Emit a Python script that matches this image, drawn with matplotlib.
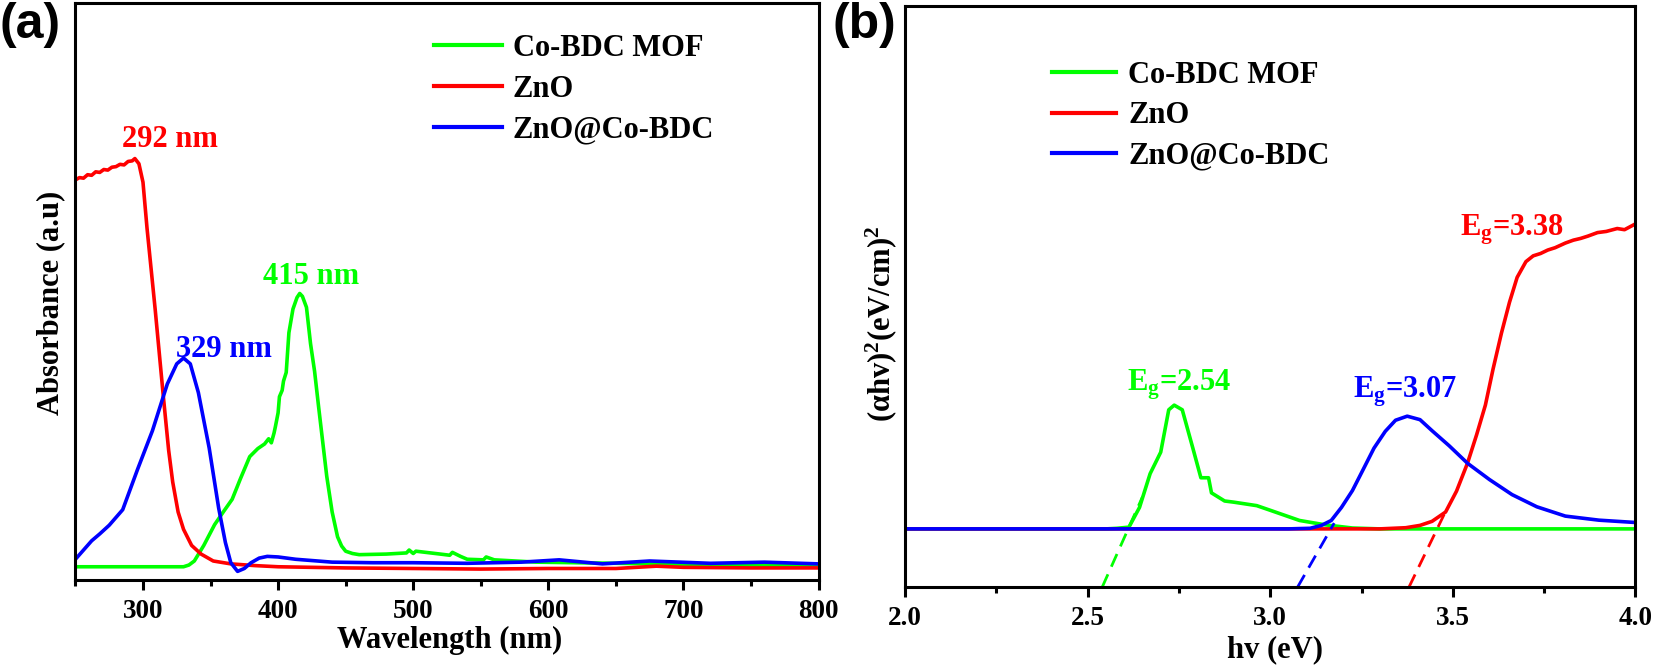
import matplotlib
matplotlib.use("Agg")
import matplotlib.pyplot as plt
from matplotlib.ticker import MultipleLocator, FormatStrFormatter

# ---------------- data: panel (a) UV-vis absorbance ----------------
wl_mof = [250, 300, 330, 334, 338, 345, 353, 360, 366, 372, 379, 385, 390, 393, 395, 397,
          398, 400, 401, 403, 404, 406, 408, 411, 414, 416, 418, 421, 424, 427, 430, 433,
          436, 440, 444, 447, 450, 455, 460, 480, 495, 497, 500, 502, 520, 527, 529, 535,
          540, 552, 554, 560, 591, 650, 700, 800]
abs_mof = [0.023, 0.023, 0.023, 0.026, 0.033, 0.060, 0.096, 0.120, 0.140, 0.175, 0.214,
           0.228, 0.236, 0.245, 0.238, 0.255, 0.266, 0.290, 0.318, 0.329, 0.345, 0.360,
           0.429, 0.470, 0.490, 0.497, 0.492, 0.473, 0.410, 0.362, 0.300, 0.240, 0.180,
           0.118, 0.075, 0.059, 0.050, 0.046, 0.044, 0.045, 0.047, 0.052, 0.046, 0.050,
           0.045, 0.043, 0.048, 0.041, 0.036, 0.035, 0.040, 0.035, 0.031, 0.029, 0.027, 0.025]

wl_zno = [250, 253, 256, 259, 262, 265, 268, 271, 274, 277, 280, 283, 286, 289, 292, 294,
          297, 300, 303, 306, 309, 312, 315, 319, 322, 326, 330, 336, 343, 352, 365, 383,
          400, 450, 500, 550, 600, 650, 680, 700, 750, 800]
abs_zno = [0.694, 0.698, 0.697, 0.703, 0.702, 0.708, 0.707, 0.712, 0.711, 0.716, 0.717,
           0.721, 0.720, 0.726, 0.727, 0.731, 0.722, 0.690, 0.610, 0.540, 0.470, 0.395,
           0.320, 0.225, 0.170, 0.118, 0.088, 0.060, 0.045, 0.033, 0.028, 0.025, 0.023,
           0.021, 0.020, 0.019, 0.020, 0.020, 0.024, 0.022, 0.021, 0.021]

wl_comp = [250, 256, 262, 268, 275, 285, 296, 307, 318, 325, 330, 335, 341, 349, 356, 361,
           365, 370, 375, 380, 386, 392, 400, 413, 440, 470, 500, 540, 580, 608, 640, 675,
           720, 760, 800]
abs_comp = [0.036, 0.052, 0.068, 0.080, 0.095, 0.122, 0.192, 0.259, 0.340, 0.375, 0.385,
            0.375, 0.325, 0.229, 0.125, 0.065, 0.030, 0.015, 0.020, 0.030, 0.038, 0.041,
            0.040, 0.036, 0.031, 0.030, 0.030, 0.029, 0.031, 0.035, 0.028, 0.033, 0.029,
            0.031, 0.028]

peak_labels_a = ["415 nm", "292 nm", "329 nm"]
peak_pos_a = [(424.6, 0.514), (319.6, 0.751), (359.6, 0.386)]

# ---------------- data: panel (b) Tauc plot ----------------
ev_mof = [2.0, 2.50, 2.55, 2.58, 2.613, 2.642, 2.671, 2.700, 2.722, 2.737, 2.759, 2.788,
          2.810, 2.831, 2.839, 2.875, 2.90, 2.963, 3.00, 3.08, 3.15, 3.225, 3.30, 4.0]
tauc_mof = [0.100, 0.100, 0.100, 0.101, 0.103, 0.137, 0.195, 0.232, 0.305, 0.313, 0.305,
            0.239, 0.188, 0.188, 0.162, 0.148, 0.146, 0.140, 0.132, 0.1145, 0.107,
            0.1015, 0.100, 0.100]

ev_zno = [2.0, 3.2, 3.30, 3.371, 3.41, 3.443, 3.48, 3.51, 3.54, 3.565, 3.589, 3.61, 3.633,
          3.655, 3.676, 3.70, 3.72, 3.74, 3.76, 3.78, 3.808, 3.83, 3.85, 3.87, 3.896, 3.92,
          3.95, 3.97, 4.0]
tauc_zno = [0.100, 0.100, 0.100, 0.102, 0.106, 0.113, 0.129, 0.165, 0.213, 0.262, 0.313,
            0.375, 0.437, 0.490, 0.533, 0.560, 0.570, 0.574, 0.580, 0.584, 0.592, 0.597,
            0.600, 0.604, 0.610, 0.612, 0.617, 0.615, 0.625]

ev_comp = [2.0, 3.05, 3.109, 3.14, 3.167, 3.195, 3.225, 3.255, 3.284, 3.315, 3.343, 3.375,
           3.41, 3.443, 3.49, 3.54, 3.60, 3.662, 3.73, 3.808, 3.90, 4.0]
tauc_comp = [0.100, 0.100, 0.101, 0.106, 0.1145, 0.137, 0.166, 0.203, 0.239, 0.268, 0.287,
             0.294, 0.288, 0.269, 0.243, 0.213, 0.185, 0.159, 0.138, 0.122, 0.115, 0.111]

# extrapolation (tangent) lines
fit_mof_x = [2.54, 2.65]
fit_mof_y = [0.0, 0.155]
fit_comp_x = [3.075, 3.175]
fit_comp_y = [0.0, 0.11]
fit_zno_x = [3.38, 3.48]
fit_zno_y = [0.0, 0.13]

gap_labels = [r"E$_{\mathrm{g}}$=2.54", r"E$_{\mathrm{g}}$=3.07", r"E$_{\mathrm{g}}$=3.38"]
gap_pos = [(2.7515, 0.338), (3.37, 0.327), (3.662, 0.605)]

series_names = ["Co-BDC MOF", "ZnO", "ZnO@Co-BDC"]
GREEN, RED, BLUE = "#00FF00", "#FF0000", "#0000FF"

# ---------------- style ----------------
plt.rcParams.update({
    "font.family": ["Liberation Serif", "DejaVu Serif"],
    "font.weight": "bold",
    "mathtext.fontset": "custom",
    "mathtext.rm": "Liberation Serif:bold",
    "mathtext.bf": "Liberation Serif:bold",
    "mathtext.it": "Liberation Serif:bold",
})

fig = plt.figure(figsize=(16.54, 6.69), dpi=100)
axA = fig.add_axes([0.0456, 0.1330, 0.4493, 0.8618])
axB = fig.add_axes([0.5472, 0.1226, 0.4416, 0.8684])

LW = 2.6
TICK_FS = 19.5
for ax in (axA, axB):
    for s in ax.spines.values():
        s.set_linewidth(2.2)
    ax.set_yticks([])
    ax.tick_params(axis="x", which="major", direction="out", length=7, width=2.2,
                   labelsize=TICK_FS, pad=7, top=False)
    ax.tick_params(axis="x", which="minor", direction="out", length=4, width=2.2, top=False)

# panel (a)
axA.plot(wl_mof, abs_mof, color=GREEN, lw=LW, label=series_names[0])
axA.plot(wl_zno, abs_zno, color=RED, lw=LW, label=series_names[1])
axA.plot(wl_comp, abs_comp, color=BLUE, lw=LW, label=series_names[2])
axA.set_xlim(250, 800)
axA.set_ylim(0, 1)
axA.xaxis.set_major_locator(MultipleLocator(100))
axA.xaxis.set_minor_locator(MultipleLocator(50))
axA.set_xticks([300, 400, 500, 600, 700, 800])
axA.set_xlabel("Wavelength (nm)", fontsize=22, fontweight="bold", va="center")
axA.xaxis.set_label_coords(0.503, -0.104)
axA.set_ylabel("Absorbance (a.u)", fontsize=22, fontweight="bold", va="center")
axA.yaxis.set_label_coords(-0.033, 0.48)
for txt, (x, y), c in zip(peak_labels_a, peak_pos_a, [GREEN, RED, BLUE]):
    axA.text(x, y, txt, color=c, fontsize=22, fontweight="bold", ha="center", va="baseline")
legA = axA.legend(loc="upper left", bbox_to_anchor=(0.482, 0.947), frameon=False,
                  handlelength=2.25, handletextpad=0.34, labelspacing=0.38,
                  borderpad=0, borderaxespad=0, prop={"weight": "bold", "size": 22})
for line in legA.get_lines():
    line.set_linewidth(3)

# panel (b)
axB.plot(ev_mof, tauc_mof, color=GREEN, lw=LW, label=series_names[0])
axB.plot(ev_zno, tauc_zno, color=RED, lw=LW, label=series_names[1])
axB.plot(ev_comp, tauc_comp, color=BLUE, lw=LW, label=series_names[2])
dash = (0, (5, 3))
axB.plot(fit_mof_x, fit_mof_y, color=GREEN, lw=2, linestyle=dash)
axB.plot(fit_comp_x, fit_comp_y, color=BLUE, lw=2, linestyle=dash)
axB.plot(fit_zno_x, fit_zno_y, color=RED, lw=2, linestyle=dash)
axB.set_xlim(2.0, 4.0)
axB.set_ylim(0, 1)
axB.xaxis.set_major_locator(MultipleLocator(0.5))
axB.xaxis.set_minor_locator(MultipleLocator(0.25))
axB.xaxis.set_major_formatter(FormatStrFormatter("%.1f"))
axB.set_xlabel("hv (eV)", fontsize=22, fontweight="bold", va="center")
axB.xaxis.set_label_coords(0.5065, -0.108)
axB.set_ylabel(r"(αhv)$^{\mathrm{2}}$(eV/cm)$^{\mathrm{2}}$", fontsize=22,
               fontweight="bold", va="center")
axB.yaxis.set_label_coords(-0.033, 0.453)
for txt, (x, y), c in zip(gap_labels, gap_pos, [GREEN, BLUE, RED]):
    axB.text(x, y, txt, color=c, fontsize=22, fontweight="bold", ha="center", va="baseline")
legB = axB.legend(loc="upper left", bbox_to_anchor=(0.2007, 0.906), frameon=False,
                  handlelength=2.1, handletextpad=0.4, labelspacing=0.38,
                  borderpad=0, borderaxespad=0, prop={"weight": "bold", "size": 22})
for line in legB.get_lines():
    line.set_linewidth(3)

for ax in (axA, axB):
    for lab in ax.get_xticklabels():
        lab.set_fontweight("bold")

fig.text(0.0, 0.997, "(a)", fontsize=36, fontweight="bold", family="Liberation Sans",
         ha="left", va="top")
fig.text(0.5036, 0.997, "(b)", fontsize=36, fontweight="bold", family="Liberation Sans",
         ha="left", va="top")

fig.savefig("out.png", dpi=100)
